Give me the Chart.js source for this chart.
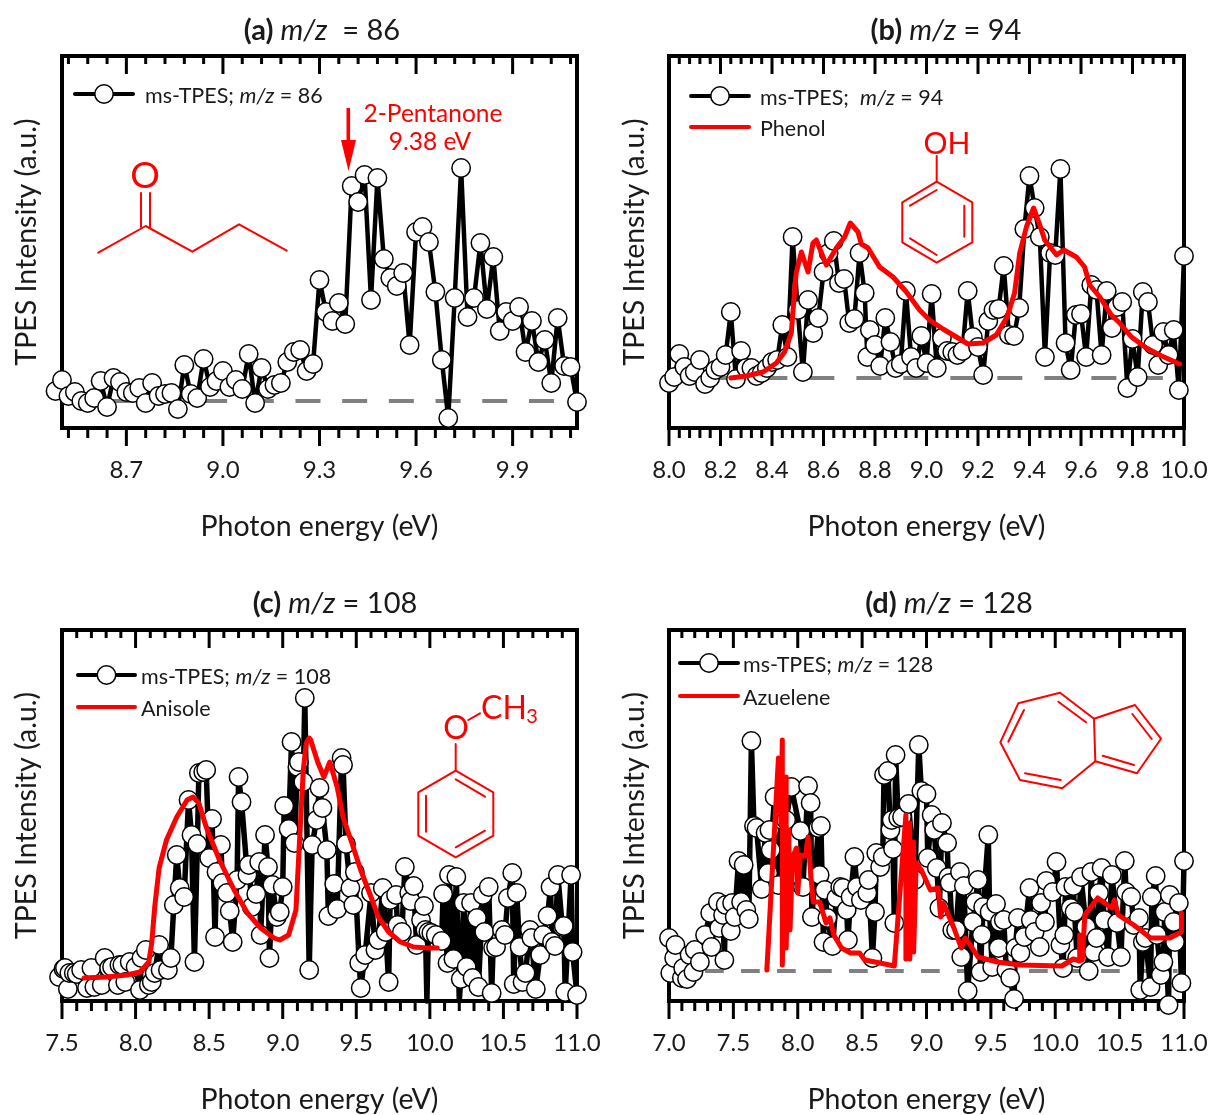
<!DOCTYPE html>
<html>
<head>
<meta charset="utf-8">
<title>TPES panels</title>
<script src="https://cdn.jsdelivr.net/npm/chart.js@4"></script>
<style>
  html, body { margin: 0; background: #fff; }
  canvas { position: absolute; }
</style>
</head>
<body>
<canvas id="panelA" width="604" height="550" style="left:0;top:0"></canvas>
<canvas id="panelB" width="605" height="550" style="left:604px;top:0"></canvas>
<canvas id="panelC" width="604" height="541" style="left:0;top:574px"></canvas>
<canvas id="panelD" width="605" height="541" style="left:604px;top:574px"></canvas>
<script>
// panel (a) m/z 86
var energyA = [
  8.48,8.50,8.52,8.54,8.56,8.58,8.60,8.62,8.64,8.66,
  8.68,8.70,8.72,8.74,8.76,8.78,8.80,8.82,8.84,8.86,
  8.88,8.90,8.92,8.94,8.96,8.98,9.00,9.02,9.04,9.06,
  9.08,9.10,9.12,9.14,9.16,9.18,9.20,9.22,9.24,9.26,
  9.28,9.30,9.32,9.34,9.36,9.38,9.40,9.42,9.44,9.46,
  9.48,9.50,9.52,9.54,9.56,9.58,9.60,9.62,9.64,9.66,
  9.68,9.70,9.72,9.74,9.76,9.78,9.80,9.82,9.84,9.86,
  9.88,9.90,9.92,9.94,9.96,9.98,10.00,10.02,10.04,10.06,
  10.08,10.10];
var signalA = [
  37,48,32,36,27,25,30,47,21,50,
  46,36,35,40,25,45,32,34,35,19,
  63,34,30,69,41,47,57,41,48,39,
  74,25,60,39,43,45,66,76,78,57,
  64,148,116,107,125,104,242,226,253,128,
  250,169,150,142,155,83,196,201,186,136,
  68,10,130,260,111,130,185,119,171,97,
  116,107,121,76,107,66,88,45,110,62,
  61,26];
var ticksA = [8.7,9.0,9.3,9.6,9.9];
var baselineEnergyA = [8.645,10.035];
var baselineA = [27,27];

// panel (b) m/z 94
var energyB = [
  8.00,8.02,8.04,8.06,8.08,8.10,8.12,8.14,8.16,8.18,
  8.20,8.22,8.24,8.26,8.28,8.30,8.32,8.34,8.36,8.38,
  8.40,8.42,8.44,8.46,8.48,8.50,8.52,8.54,8.56,8.58,
  8.60,8.62,8.64,8.66,8.68,8.70,8.72,8.74,8.76,8.77,8.78,
  8.80,8.82,8.84,8.86,8.88,8.90,8.92,8.94,8.96,8.98,
  9.00,9.02,9.04,9.06,9.08,9.10,9.12,9.14,9.16,9.18,
  9.20,9.22,9.24,9.26,9.28,9.30,9.32,9.34,9.36,9.38,
  9.40,9.42,9.44,9.46,9.48,9.50,9.52,9.54,9.56,9.58,
  9.60,9.62,9.64,9.66,9.68,9.70,9.72,9.74,9.76,9.78,
  9.80,9.82,9.84,9.86,9.88,9.90,9.92,9.94,9.96,9.98,
  10.00];
var signalB = [
  45,51,74,61,52,56,68,44,50,58,
  61,73,116,49,77,60,60,52,55,60,
  66,68,103,71,191,118,56,128,95,110,
  156,175,187,145,149,105,109,175,135,71,98,
  83,62,110,86,60,64,137,71,60,92,
  65,134,60,90,77,76,73,77,137,91,
  81,53,107,118,119,162,93,92,120,199,
  252,220,191,71,175,173,259,85,58,113,
  114,71,143,138,73,137,100,121,126,40,
  89,51,136,126,83,63,96,73,98,38,
  172];
var phenolEnergy = [
  8.24,8.30,8.365,8.417,8.449,8.475,8.484,8.494,8.514,8.54,
  8.559,8.572,8.611,8.65,8.682,8.704,8.734,8.747,8.773,8.818,
  8.87,8.922,8.973,9.012,9.064,9.116,9.161,9.219,9.271,9.313,
  9.342,9.362,9.388,9.416,9.44,9.459,9.505,9.533,9.582,9.614,
  9.634,9.673,9.718,9.75,9.796,9.854,9.905,9.983];
var phenolSignal = [
  50,52,56,65,76,95,125,155,176,156,
  185,188,163,180,191,205,196,184,180,161,
  151,136,118,108,99,91,84,85,93,111,
  135,175,201,220,203,188,173,178,171,161,
  143,131,113,105,91,80,73,64];
var ticksB = [8.0,8.2,8.4,8.6,8.8,9.0,9.2,9.4,9.6,9.8,10.0];
var baselineEnergyB = [8.18,9.918];
var baselineB = [50,50];

// panel (c) m/z 108
var energyC = [
  7.48,7.51,7.52,7.54,7.55,7.58,7.60,7.63,7.67,7.70,
  7.72,7.77,7.79,7.82,7.84,7.88,7.89,7.91,7.93,7.96,
  8.00,8.03,8.04,8.07,8.09,8.11,8.13,8.16,8.17,8.22,
  8.24,8.26,8.28,8.30,8.33,8.36,8.38,8.40,8.42,8.43,
  8.46,8.48,8.50,8.52,8.54,8.55,8.58,8.59,8.62,8.64,
  8.66,8.69,8.70,8.72,8.76,8.77,8.79,8.82,8.84,8.85,
  8.88,8.90,8.91,8.93,8.96,8.98,9.00,9.01,9.04,9.06,
  9.08,9.10,9.11,9.14,9.15,9.18,9.20,9.23,9.25,9.27,
  9.30,9.31,9.35,9.37,9.40,9.41,9.43,9.46,9.48,9.49,
  9.52,9.53,9.56,9.60,9.63,9.65,9.68,9.70,9.72,9.73,
  9.77,9.78,9.81,9.83,9.86,9.87,9.89,9.91,9.94,9.96,
  9.97,9.98,9.99,10.01,10.04,10.08,10.09,10.12,10.13,10.16,
  10.18,10.20,10.21,10.23,10.25,10.28,10.29,10.32,10.33,10.36,
  10.37,10.40,10.42,10.43,10.45,10.49,10.51,10.53,10.56,10.57,
  10.59,10.61,10.63,10.65,10.68,10.69,10.72,10.75,10.77,10.80,
  10.82,10.83,10.85,10.87,10.90,10.91,10.92,10.96,10.97,11.00];
var signalC = [
  24,32,33,12,28,28,27,31,13,33,
  14,16,43,33,34,16,36,36,19,39,
  34,11,43,51,16,19,28,56,31,31,
  43,96,146,113,104,201,166,39,157,228,
  229,231,143,182,64,129,156,118,108,90,
  59,121,224,199,126,136,94,107,139,66,
  166,134,43,116,84,89,114,195,172,259,
  158,234,239,219,303,31,156,181,213,193,
  151,85,117,92,243,236,157,113,96,129,
  38,13,46,108,51,61,113,69,19,101,
  106,76,69,134,108,100,115,56,81,95,
  71,0,69,68,66,60,107,38,126,42,
  124,0,22,98,34,98,23,83,14,106,
  69,114,8,53,54,71,66,103,128,17,
  108,54,19,28,71,63,12,46,66,85,
  114,59,55,126,74,75,9,126,49,6];
var anisoleEnergy = [
  7.65,7.80,7.94,8.03,8.09,8.11,8.13,8.16,8.21,8.28,
  8.35,8.39,8.43,8.48,8.57,8.67,8.76,8.85,8.94,8.98,
  9.04,9.09,9.11,9.14,9.16,9.18,9.19,9.24,9.28,9.32,
  9.37,9.41,9.47,9.53,9.60,9.65,9.72,9.80,9.89,9.98,
  10.05];
var anisoleSignal = [
  23,24,26,29,39,58,94,133,161,184,
  201,204,198,174,141,111,88,73,63,61,
  66,91,148,231,258,263,261,238,224,239,
  214,184,158,131,104,84,69,59,54,53,
  53];
var ticksC = [7.5,8.0,8.5,9.0,9.5,10.0,10.5,11.0];

// panel (d) m/z 128
var energyD = [
  7.00,7.01,7.04,7.05,7.10,7.11,7.14,7.16,7.19,7.20,
  7.24,7.28,7.32,7.33,7.38,7.39,7.42,7.43,7.44,7.48,
  7.49,7.51,7.54,7.56,7.58,7.60,7.62,7.64,7.66,7.68,
  7.72,7.75,7.77,7.78,7.79,7.82,7.85,7.88,7.91,7.95,
  8.02,8.04,8.08,8.10,8.11,8.16,8.17,8.18,8.20,8.21,
  8.23,8.27,8.30,8.33,8.35,8.38,8.39,8.41,8.44,8.46,
  8.49,8.54,8.55,8.58,8.60,8.61,8.64,8.66,8.67,8.70,
  8.72,8.73,8.74,8.75,8.76,8.78,8.81,8.86,8.91,8.94,
  8.96,9.00,9.01,9.04,9.06,9.08,9.10,9.12,9.16,9.17,
  9.18,9.20,9.23,9.26,9.27,9.29,9.32,9.36,9.38,9.40,
  9.42,9.43,9.44,9.48,9.49,9.51,9.54,9.56,9.57,9.60,
  9.62,9.65,9.68,9.69,9.71,9.73,9.76,9.80,9.81,9.84,
  9.88,9.89,9.92,9.93,9.98,10.01,10.04,10.06,10.07,10.08,
  10.12,10.14,10.15,10.17,10.20,10.24,10.26,10.28,10.30,10.32,
  10.34,10.36,10.38,10.41,10.44,10.48,10.51,10.54,10.55,10.59,
  10.61,10.65,10.66,10.68,10.70,10.74,10.75,10.78,10.79,10.82,
  10.84,10.85,10.88,10.89,10.92,10.93,10.96,10.98,11.00];
var signalD = [
  63,28,43,56,23,33,22,46,29,51,
  39,66,88,54,99,73,86,41,96,70,
  98,84,140,99,136,91,82,260,175,173,
  112,168,128,171,151,204,116,181,181,214,
  170,114,215,198,84,173,126,175,59,111,
  83,55,103,114,113,91,61,104,144,114,
  101,108,121,43,89,148,134,144,226,230,
  171,181,152,78,246,183,184,197,121,256,
  210,207,143,186,171,133,93,178,158,124,
  118,71,71,129,44,115,10,79,99,121,
  29,66,94,166,89,34,97,53,79,81,
  31,23,2,53,83,48,64,113,81,69,
  54,98,79,120,109,139,56,33,66,114,
  93,115,89,43,124,74,30,129,49,63,
  108,133,81,44,126,78,44,140,109,104,
  76,83,11,59,63,14,104,125,66,26,
  39,89,-4,106,79,59,98,18,140];
var azuleneEnergy = [
  7.76,7.85,7.87,7.88,7.88,7.91,7.91,7.93,7.94,7.96,
  7.99,8.00,8.02,8.06,8.08,8.10,8.12,8.17,8.22,8.25,
  8.28,8.34,8.41,8.48,8.52,8.64,8.75,8.84,8.84,8.87,
  8.87,8.90,8.90,8.92,8.96,9.03,9.09,9.11,9.13,9.21,
  9.27,9.30,9.34,9.40,9.55,9.73,10.05,10.14,10.19,10.19,
  10.21,10.23,10.33,10.44,10.46,10.49,10.61,10.74,10.89,10.98,
  10.98];
var azuleneSignal = [
  31,243,178,261,36,224,53,171,71,144,
  153,108,146,145,164,128,99,99,78,83,
  66,53,48,48,41,38,35,186,42,178,
  42,159,49,138,131,111,113,84,98,74,
  53,63,56,44,39,36,35,42,40,66,
  41,86,103,93,101,86,76,63,63,69,
  88];
var ticksD = [7.0,7.5,8.0,8.5,9.0,9.5,10.0,10.5,11.0];
var baselineEnergyD = [7.28,10.95];
var baselineD = [30,30];

var FONT = 'Lato, "Noto Sans", sans-serif';
var RED = '#ff0000';

function pts(xs, ys) {
  return xs.map(function (x, i) { return { x: x, y: ys[i] }; });
}

// draw a line of mixed bold/italic text, x is the start or the centre
function drawRuns(ctx, runs, x, y, size, color, center) {
  ctx.save();
  ctx.fillStyle = color;
  ctx.textBaseline = 'middle';
  ctx.textAlign = 'left';
  var total = 0;
  runs.forEach(function (r) {
    ctx.font = (r[1] || '') + ' ' + size + 'px ' + FONT;
    total += ctx.measureText(r[0]).width;
  });
  var px = center ? x - total / 2 : x;
  runs.forEach(function (r) {
    ctx.font = (r[1] || '') + ' ' + size + 'px ' + FONT;
    ctx.fillText(r[0], px, y);
    px += ctx.measureText(r[0]).width;
  });
  ctx.restore();
}

function strokeBonds(ctx, bonds) {
  ctx.save();
  ctx.strokeStyle = RED;
  ctx.lineWidth = 2;
  ctx.lineCap = 'round';
  ctx.lineJoin = 'round';
  bonds.forEach(function (b) {
    ctx.beginPath();
    ctx.moveTo(b[0], b[1]);
    for (var i = 2; i < b.length; i += 2) ctx.lineTo(b[i], b[i + 1]);
    ctx.stroke();
  });
  ctx.restore();
}

// frame and tick marks, taken from the x scale
var framePlugin = {
  id: 'frame',
  beforeDatasetsDraw: function (chart, args, opts) {
    var ctx = chart.ctx, a = chart.chartArea, sx = chart.scales.x;
    ctx.save();
    ctx.strokeStyle = '#000';
    ctx.lineWidth = 3;
    opts.minor.forEach(function (v) {
      var px = sx.getPixelForValue(v);
      ctx.beginPath();
      ctx.moveTo(px, a.top); ctx.lineTo(px, a.top + 8);
      ctx.moveTo(px, a.bottom); ctx.lineTo(px, a.bottom + 10);
      ctx.stroke();
    });
    opts.major.forEach(function (v) {
      var px = sx.getPixelForValue(v);
      ctx.beginPath();
      ctx.moveTo(px, a.top); ctx.lineTo(px, a.top + 18);
      ctx.moveTo(px, a.bottom); ctx.lineTo(px, a.bottom + 18);
      ctx.stroke();
    });
    ctx.lineWidth = 4;
    ctx.strokeRect(a.left, a.top, a.right - a.left, a.bottom - a.top);
    ctx.restore();
  },
  afterDraw: function (chart, args, opts) {
    var ctx = chart.ctx;
    ctx.save();
    ctx.translate(-opts.pageX, -opts.pageY);
    drawRuns(ctx, opts.title, opts.titleX, opts.titleY, 29, '#1a1a1a', true);
    opts.legend.forEach(function (it) {
      ctx.beginPath();
      ctx.strokeStyle = it.color;
      ctx.lineWidth = 4;
      ctx.lineCap = 'round';
      ctx.moveTo(it.x0, it.y); ctx.lineTo(it.x1, it.y);
      ctx.stroke();
      if (it.marker) {
        ctx.beginPath();
        ctx.arc((it.x0 + it.x1) / 2, it.y, 9.2, 0, Math.PI * 2);
        ctx.fillStyle = '#fff';
        ctx.fill();
        ctx.lineWidth = 1.5;
        ctx.strokeStyle = '#000';
        ctx.stroke();
      }
      drawRuns(ctx, it.text, it.tx, it.y + 2, 21.5, '#1a1a1a', false);
    });
    strokeBonds(ctx, opts.bonds);
    opts.labels.forEach(function (l) {
      drawRuns(ctx, [[l[0]]], l[1], l[2], l[3], RED, true);
    });
    if (opts.extra) opts.extra(ctx);
    ctx.restore();
  }
};

function makePanel(id, cfg) {
  var datasets = [{
    data: pts(cfg.energy, cfg.signal),
    order: 2,
    borderColor: '#000',
    borderWidth: cfg.lineWidth,
    borderJoinStyle: 'round',
    backgroundColor: '#fff',
    pointBackgroundColor: '#fff',
    pointBorderColor: '#000',
    pointBorderWidth: 1.5,
    pointRadius: function (c) { return c.raw && c.raw.y === 0 ? 0 : 9.2; },
    tension: 0,
    clip: false
  }];
  if (cfg.baseEnergy) {
    datasets.push({
      data: pts(cfg.baseEnergy, cfg.base),
      order: 3,
      borderColor: '#808080',
      borderWidth: 4,
      borderDash: cfg.dash,
      pointRadius: 0,
      tension: 0,
      clip: false
    });
  }
  if (cfg.refEnergy) {
    datasets.push({
      data: pts(cfg.refEnergy, cfg.ref),
      order: 1,
      borderColor: RED,
      borderWidth: 5,
      borderJoinStyle: 'round',
      borderCapStyle: 'round',
      pointRadius: 0,
      tension: 0,
      clip: false
    });
  }
  return new Chart(document.getElementById(id), {
    type: 'line',
    data: { datasets: datasets },
    plugins: [framePlugin],
    options: {
      responsive: false,
      animation: false,
      layout: { padding: { top: 56, left: 0, right: cfg.padRight, bottom: 0 } },
      plugins: {
        legend: { display: false },
        title: { display: false },
        tooltip: { enabled: false },
        frame: {
          major: cfg.ticks,
          minor: cfg.minor,
          pageX: cfg.pageX,
          pageY: cfg.pageY,
          title: cfg.title,
          titleX: cfg.titleX,
          titleY: cfg.titleY,
          legend: cfg.legend,
          bonds: cfg.bonds,
          labels: cfg.labels,
          extra: cfg.extra
        }
      },
      scales: {
        x: {
          type: 'linear',
          min: cfg.xMin,
          max: cfg.xMax,
          afterBuildTicks: function (s) { s.ticks = cfg.ticks.map(function (v) { return { value: v }; }); },
          afterFit: function (s) {
            s.height = cfg.xHeight;
            // end labels must not shrink the plot area
            s.paddingLeft = 0;
            s.paddingRight = 0;
          },
          grid: { display: false },
          border: { display: false },
          ticks: {
            autoSkip: false,
            maxRotation: 0,
            padding: 20,
            color: '#1a1a1a',
            font: { family: FONT, size: 24 },
            callback: function (v) { return v.toFixed(1); }
          },
          title: {
            display: true,
            text: 'Photon energy (eV)',
            color: '#1a1a1a',
            font: { family: FONT, size: 28.5 },
            padding: { top: 0, bottom: cfg.xTitlePad }
          }
        },
        y: {
          min: 0,
          max: cfg.yMax,
          afterFit: function (s) { s.width = cfg.yWidth; },
          grid: { display: false },
          border: { display: false },
          ticks: { display: false },
          title: {
            display: true,
            text: 'TPES Intensity (a.u.)',
            color: '#1a1a1a',
            font: { family: FONT, size: 28.5 },
            padding: { top: cfg.yTitlePad, bottom: 0 }
          }
        }
      }
    }
  });
}

makePanel('panelA', {
  energy: energyA, signal: signalA, lineWidth: 4.5,
  baseEnergy: baselineEnergyA, base: baselineA, dash: [25, 21.7],
  ticks: ticksA,
  minor: [8.52,8.58,8.64,8.76,8.82,8.88,8.94,9.06,9.12,9.18,9.24,9.36,9.42,9.48,9.54,9.66,9.72,9.78,9.84,9.96,10.02,10.08],
  xMin: 8.5, xMax: 10.1, yMax: 372,
  padRight: 27, yWidth: 62, xHeight: 122, xTitlePad: 6, yTitlePad: 10,
  pageX: 0, pageY: 0,
  title: [['(a) ', 'bold'], ['m/z', 'italic'], ['  = 86']], titleX: 322, titleY: 31,
  legend: [{ x0: 75, x1: 133, y: 94, color: '#000', marker: true, tx: 145, text: [['ms-TPES; '], ['m/z', 'italic'], [' = 86']] }],
  bonds: [
    [141, 193, 141, 227], [150, 193, 150, 228],
    [98.3, 252.7, 145.7, 226, 192.3, 251.7, 239, 224.3, 286.7, 250.7]
  ],
  labels: [['O', 145, 176, 37], ['2-Pentanone', 433, 114, 24.5], ['9.38 eV', 430, 142, 24.5]],
  extra: function (ctx) {
    // arrow at the 9.38 eV onset
    ctx.fillStyle = RED;
    ctx.fillRect(346.5, 108, 3.6, 34);
    ctx.beginPath();
    ctx.moveTo(341, 140); ctx.lineTo(356, 140); ctx.lineTo(348.5, 171);
    ctx.closePath();
    ctx.fill();
  }
});

makePanel('panelB', {
  energy: energyB, signal: signalB, lineWidth: 4.5,
  baseEnergy: baselineEnergyB, base: baselineB, dash: [25, 22],
  refEnergy: phenolEnergy, ref: phenolSignal,
  ticks: ticksB,
  minor: [8.04,8.08,8.12,8.16,8.24,8.28,8.32,8.36,8.44,8.48,8.52,8.56,8.64,8.68,8.72,8.76,8.84,8.88,8.92,8.96,9.04,9.08,9.12,9.16,9.24,9.28,9.32,9.36,9.44,9.48,9.52,9.56,9.64,9.68,9.72,9.76,9.84,9.88,9.92,9.96],
  xMin: 8.0, xMax: 10.0, yMax: 372,
  padRight: 25, yWidth: 65, xHeight: 122, xTitlePad: 6, yTitlePad: 14,
  pageX: 604, pageY: 0,
  title: [['(b) ', 'bold'], ['m/z', 'italic'], [' = 94']], titleX: 946, titleY: 31,
  legend: [
    { x0: 691, x1: 749, y: 96, color: '#000', marker: true, tx: 760, text: [['ms-TPES;  '], ['m/z', 'italic'], [' = 94']] },
    { x0: 691, x1: 749, y: 127, color: RED, tx: 760, text: [['Phenol']] }
  ],
  bonds: [
    [936.7, 156, 936.7, 181.7],
    [936.7, 181.7, 972.3, 202.3, 972.3, 242.3, 936.7, 262.7, 902.3, 242.3, 902.3, 202.3, 936.7, 181.7],
    [964.3, 205.7, 964.3, 236.7], [910, 205.7, 936.7, 190], [910, 238.3, 936.7, 255]
  ],
  labels: [['OH', 947, 144, 30]]
});

makePanel('panelC', {
  energy: energyC, signal: signalC, lineWidth: 5.5,
  refEnergy: anisoleEnergy, ref: anisoleSignal,
  ticks: ticksC,
  minor: [7.6,7.7,7.8,7.9,8.1,8.2,8.3,8.4,8.6,8.7,8.8,8.9,9.1,9.2,9.3,9.4,9.6,9.7,9.8,9.9,10.1,10.2,10.3,10.4,10.6,10.7,10.8,10.9],
  xMin: 7.5, xMax: 11.0, yMax: 371,
  padRight: 27, yWidth: 62, xHeight: 114, xTitlePad: -2, yTitlePad: 10,
  pageX: 0, pageY: 574,
  title: [['(c) ', 'bold'], ['m/z', 'italic'], [' = 108']], titleX: 335, titleY: 604,
  legend: [
    { x0: 78, x1: 135, y: 675, color: '#000', marker: true, tx: 141, text: [['ms-TPES; '], ['m/z', 'italic'], [' = 108']] },
    { x0: 78, x1: 135, y: 707, color: RED, tx: 141, text: [['Anisole']] }
  ],
  bonds: [
    [468.3, 720, 480, 713.3], [455.7, 744, 455.7, 770.7],
    [455.7, 770.7, 493.3, 792.3, 493.3, 835.7, 455.7, 857.3, 418.3, 835.7, 418.3, 792.3, 455.7, 770.7],
    [426, 795.7, 426, 831.7], [455.7, 779.3, 485, 796.7], [455.7, 847.3, 485, 830.7]
  ],
  labels: [['O', 456, 729, 32], ['CH', 504, 709, 32], ['3', 532, 717, 20]]
});

makePanel('panelD', {
  energy: energyD, signal: signalD, lineWidth: 5.5,
  baseEnergy: baselineEnergyD, base: baselineD, dash: [18.7, 17.3],
  refEnergy: azuleneEnergy, ref: azuleneSignal,
  ticks: ticksD,
  minor: [7.1,7.2,7.3,7.4,7.6,7.7,7.8,7.9,8.1,8.2,8.3,8.4,8.6,8.7,8.8,8.9,9.1,9.2,9.3,9.4,9.6,9.7,9.8,9.9,10.1,10.2,10.3,10.4,10.6,10.7,10.8,10.9],
  xMin: 7.0, xMax: 11.0, yMax: 371,
  padRight: 25, yWidth: 65, xHeight: 114, xTitlePad: -2, yTitlePad: 14,
  pageX: 604, pageY: 574,
  title: [['(d) ', 'bold'], ['m/z', 'italic'], [' = 128']], titleX: 949, titleY: 604,
  legend: [
    { x0: 680, x1: 738, y: 663, color: '#000', marker: true, tx: 743, text: [['ms-TPES; '], ['m/z', 'italic'], [' = 128']] },
    { x0: 680, x1: 738, y: 696, color: RED, tx: 743, text: [['Azuelene']] }
  ],
  bonds: [
    [1018.3, 703.3, 1060, 692.7, 1094, 718.7, 1135, 705, 1161, 738.7, 1137, 773.3, 1095.3, 761.3, 1062.3, 788.3, 1020, 780, 1000.3, 742.3, 1018.3, 703.3],
    [1094, 718.7, 1095.3, 761.3],
    [1024, 710, 1008.3, 741.7], [1058.3, 701.7, 1086, 722.3], [1132.3, 714, 1151.7, 739],
    [1102.7, 755.7, 1134, 765], [1025, 773.3, 1060.7, 780]
  ],
  labels: []
});
</script>
</body>
</html>
